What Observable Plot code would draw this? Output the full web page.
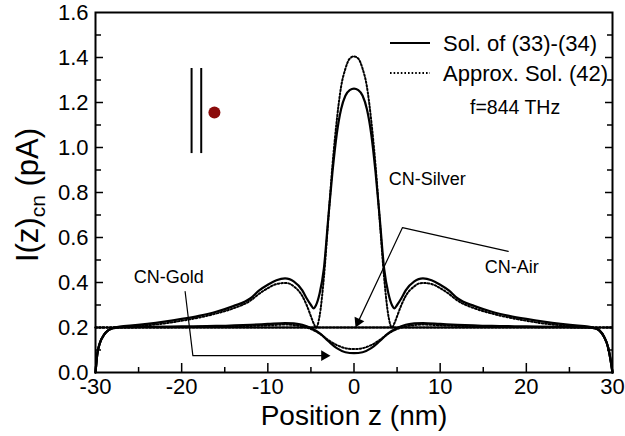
<!DOCTYPE html>
<html><head><meta charset="utf-8">
<script src="https://cdn.jsdelivr.net/npm/d3@7"></script>
<script src="https://cdn.jsdelivr.net/npm/@observablehq/plot@0.6"></script>
<style>body{margin:0;background:#fff}svg{display:block}</style>
</head><body><div id="chart"></div>
<script>
// ---- data ----
const zSilver = [-30,-29.8,-29.5,-29,-28.5,-28,-27,-26,-24,-22,-20,-18,-16,-14,-12,-11,-10,-9,-8,-7.5,-7,-6,-5.5,-5,-4.7,-4.4,-4,-3.5,-3,-2.5,-2,-1.5,-1,-0.5,0,
  0.5,1,1.5,2,2.5,3,3.5,4,4.4,4.7,5,5.5,6,7,7.5,8,9,10,11,12,14,16,18,20,22,24,26,27,28,28.5,29,29.5,29.8,30];
const silverSol = [0,0.08,0.13,0.168,0.188,0.198,0.205,0.208,0.216,0.226,0.238,0.252,0.27,0.295,0.33,0.365,0.39,0.41,0.418,0.415,0.405,0.365,0.33,0.3,0.285,0.3,0.35,0.46,0.68,0.89,1.06,1.17,1.23,1.255,1.262,
  1.255,1.23,1.17,1.06,0.89,0.68,0.46,0.35,0.3,0.285,0.3,0.33,0.365,0.405,0.415,0.418,0.41,0.39,0.365,0.33,0.295,0.27,0.252,0.238,0.226,0.216,0.208,0.205,0.198,0.186,0.16,0.11,0.05,0];
const silverApprox = [0.2,0.2,0.2,0.2,0.2,0.2,0.202,0.205,0.21,0.218,0.23,0.244,0.262,0.285,0.32,0.35,0.375,0.393,0.398,0.395,0.383,0.34,0.3,0.25,0.22,0.2,0.25,0.42,0.67,0.92,1.12,1.27,1.35,1.395,1.405,
  1.395,1.35,1.27,1.12,0.92,0.67,0.42,0.25,0.2,0.22,0.25,0.3,0.34,0.383,0.395,0.398,0.393,0.375,0.35,0.32,0.285,0.262,0.244,0.23,0.218,0.21,0.205,0.202,0.2,0.2,0.2,0.2,0.2,0.2];

const zAir = [-30,-29.8,-29.5,-29,-28.5,-28,-27,-20,-10,0,10,20,27,28,28.5,29,29.5,29.8,30];
const airSol = [0,0.08,0.13,0.168,0.188,0.196,0.2,0.2,0.2,0.2,0.2,0.2,0.2,0.196,0.186,0.16,0.11,0.05,0];
const airApprox = [0.2,0.2,0.2,0.2,0.2,0.2,0.2,0.2,0.2,0.2,0.2,0.2,0.2,0.2,0.2,0.2,0.2,0.2,0.2];

const zGold = [-30,-29.8,-29.5,-29,-28.5,-28,-27,-24,-20,-16,-12,-10,-8,-7,-6,-5,-4,-3,-2,-1,0,
  1,2,3,4,5,6,7,8,10,12,16,20,24,27,28,28.5,29,29.5,29.8,30];
const goldSol = [0,0.08,0.13,0.168,0.188,0.198,0.202,0.203,0.205,0.207,0.212,0.216,0.22,0.218,0.212,0.198,0.175,0.14,0.108,0.09,0.086,
  0.09,0.108,0.14,0.175,0.198,0.212,0.218,0.22,0.216,0.212,0.207,0.205,0.203,0.2,0.196,0.186,0.16,0.11,0.05,0];
const goldApprox = [0.2,0.2,0.2,0.2,0.2,0.2,0.2,0.201,0.202,0.204,0.207,0.21,0.213,0.211,0.205,0.193,0.173,0.145,0.122,0.108,0.104,
  0.108,0.122,0.145,0.173,0.193,0.205,0.211,0.213,0.21,0.207,0.204,0.202,0.201,0.2,0.2,0.2,0.2,0.2,0.2,0.2];

const xTickLabels = [-30,-20,-10,0,10,20,30];
const yTickLabels = [0,0.2,0.4,0.6,0.8,1.0,1.2,1.4,1.6];
const xMajorTicks = [-20,-10,0,10,20];
const xMinorTicks = [-25,-15,-5,5,15,25];
const yMajorTicks = [0.2,0.4,0.6,0.8,1.0,1.2,1.4];
const yMinorTicks = [0.1,0.3,0.5,0.7,0.9,1.1,1.3,1.5];

const legendLabels = ["Sol. of (33)-(34)", "Approx. Sol. (42)"];
const xTitle = "Position z (nm)";
const noteLabels = [
  {text: "CN-Silver", z: 8.5, v: 0.858},
  {text: "CN-Air", z: 18.3, v: 0.467},
  {text: "CN-Gold", z: -21.5, v: 0.422}
];
const freqLabel = [{text: "f=844 THz", z: 18.7, v: 1.175}];
const goldLeader = [{z: -19.6, v: 0.36}, {z: -18.7, v: 0.075}, {z: -3.45, v: 0.075}];
const airLeader = [{z: 17.9, v: 0.538}, {z: 5.63, v: 0.644}, {z: 0.48, v: 0.225}];
const arrowHeads = [{z: -3.45, v: 0.075, rot: 90}, {z: 0.48, v: 0.225, rot: 205}];
const glyphRules = [{z: -18.85, v1: 0.973, v2: 1.351}, {z: -17.73, v1: 0.973, v2: 1.351}];
const glyphDot = [{z: -16.2, v: 1.156}];

// ---- build table ----
function rows(zs, vs, series) { return zs.map((z, i) => ({z, v: vs[i], series})); }
const solid = [...rows(zSilver, silverSol, "silver"), ...rows(zAir, airSol, "air"), ...rows(zGold, goldSol, "gold")];
const approx = [...rows(zSilver, silverApprox, "silver"), ...rows(zAir, airApprox, "air"), ...rows(zGold, goldApprox, "gold")];

const W = 625, H = 436, mL = 95, mR = 13, mT = 12, mB = 64;
const fw = W - mL - mR, fh = H - mT - mB;
const font = "'Liberation Sans', Arial, Helvetica, sans-serif";
const dots = "1.6,2";

const chart = Plot.plot({
  width: W, height: H,
  marginLeft: mL, marginRight: mR, marginTop: mT, marginBottom: mB,
  style: {fontFamily: font, fontSize: "22px", color: "black", background: "white"},
  x: {domain: [-30, 30]},
  y: {domain: [0, 1.6]},
  marks: [
    Plot.line(approx, {x: "z", y: "v", z: "series", stroke: "black", strokeWidth: 2, strokeDasharray: dots, curve: "monotone-x"}),
    Plot.line(solid, {x: "z", y: "v", z: "series", stroke: "black", strokeWidth: 2.2, curve: "monotone-x"}),
    Plot.frame({stroke: "black", strokeWidth: 2}),
    Plot.tickX(xMajorTicks, {x: d => d, insetTop: fh - 9, strokeWidth: 1.5}),
    Plot.tickX(xMinorTicks, {x: d => d, insetTop: fh - 5, strokeWidth: 1.5}),
    Plot.tickY(yMajorTicks, {y: d => d, insetRight: fw - 8, strokeWidth: 1.5}),
    Plot.tickY(yMinorTicks, {y: d => d, insetRight: fw - 6, strokeWidth: 1.5}),
    Plot.tickY(yMajorTicks, {y: d => d, insetLeft: fw - 7, strokeWidth: 1.5}),
    Plot.tickY(yMinorTicks, {y: d => d, insetLeft: fw - 5, strokeWidth: 1.5}),
    Plot.axisX({ticks: xTickLabels, tickSize: 0, tickPadding: 6, tickFormat: d => String(d), label: null, fontSize: 22}),
    Plot.axisY({ticks: yTickLabels, tickSize: 0, tickPadding: 7, tickFormat: d3.format(".1f"), label: null, fontSize: 22}),
    Plot.text([xTitle], {text: d => d, frameAnchor: "bottom", dy: 52, fontSize: 28}),
    Plot.text(noteLabels, {x: "z", y: "v", text: "text", fontSize: 18}),
    Plot.text(freqLabel, {x: "z", y: "v", text: "text", fontSize: 19.5}),
    Plot.line(goldLeader, {x: "z", y: "v", stroke: "black", strokeWidth: 1.2}),
    Plot.line(airLeader, {x: "z", y: "v", stroke: "black", strokeWidth: 1.2}),
    Plot.dot(arrowHeads, {x: "z", y: "v", rotate: "rot", symbol: "triangle", r: 4, fill: "black", stroke: null}),
    Plot.ruleX(glyphRules, {x: "z", y1: "v1", y2: "v2", stroke: "black", strokeWidth: 2}),
    Plot.dot(glyphDot, {x: "z", y: "v", r: 6, fill: "#8b0b0b", stroke: null})
  ]
});

const svg = d3.select(chart);
// y axis title with subscript
const yt = svg.append("text")
  .attr("transform", "translate(38,195) rotate(-90)")
  .attr("text-anchor", "middle")
  .attr("font-family", font).attr("font-size", 31).attr("fill", "black");
yt.append("tspan").text("I(z)");
yt.append("tspan").attr("dy", 7).attr("font-size", 21).text("cn");
yt.append("tspan").attr("dy", -7).text(" (pA)");

// legend
const lg = svg.append("g").attr("font-family", font).attr("font-size", 22).attr("text-anchor", "start");
legendLabels.forEach((label, i) => {
  const y = 43 + i * 30;
  lg.append("line").attr("x1", 390).attr("x2", 430).attr("y1", y).attr("y2", y)
    .attr("stroke", "black").attr("stroke-width", 2)
    .attr("stroke-dasharray", i === 0 ? null : dots);
  lg.append("text").attr("x", 443).attr("y", y).attr("dy", "0.35em").attr("fill", "black").text(label);
});

document.getElementById("chart").appendChild(chart);
</script></body></html>
